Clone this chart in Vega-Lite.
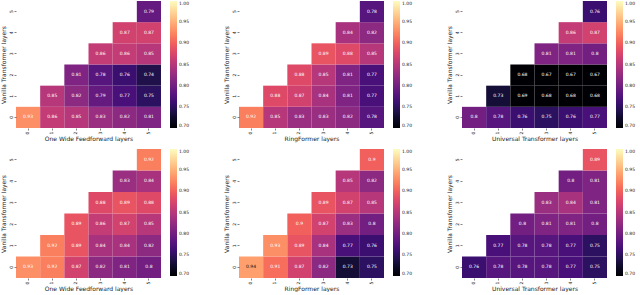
{
  "$schema": "https://vega.github.io/schema/vega-lite/v6.json",
  "padding": {"left": 0, "top": 1, "right": 0, "bottom": 0},
  "background": "white",
  "config": {
    "font": "DejaVu Sans",
    "view": {"stroke": null},
    "axis": {"domain": false, "tickSize": 2, "tickColor": "#333", "tickWidth": 0.6, "labelFontSize": 4.5, "titleFontSize": 6, "labelColor": "#222", "titleColor": "#222", "titleFontWeight": "normal", "labelPadding": 1, "titlePadding": 2, "grid": false},
    "axisX": {"labelAngle": 270, "labelAlign": "right", "labelBaseline": "middle"},
    "axisY": {"labelAngle": 270, "labelAlign": "center", "labelBaseline": "bottom"},
    "legend": {"orient": "right", "offset": 9, "gradientLength": 127, "gradientThickness": 7, "gradientStrokeWidth": 0, "labelFontSize": 4.5, "labelColor": "#222", "labelOffset": 3, "padding": 0, "direction": "vertical"}
  },
  "datasets": {
    "cells": [
      {"p":1,"v":0,"o":0,"val":0.93},{"p":1,"v":0,"o":1,"val":0.86},{"p":1,"v":0,"o":2,"val":0.85},{"p":1,"v":0,"o":3,"val":0.83},{"p":1,"v":0,"o":4,"val":0.82},{"p":1,"v":0,"o":5,"val":0.81},
      {"p":1,"v":1,"o":1,"val":0.85},{"p":1,"v":1,"o":2,"val":0.82},{"p":1,"v":1,"o":3,"val":0.79},{"p":1,"v":1,"o":4,"val":0.77},{"p":1,"v":1,"o":5,"val":0.75},
      {"p":1,"v":2,"o":2,"val":0.81},{"p":1,"v":2,"o":3,"val":0.78},{"p":1,"v":2,"o":4,"val":0.76},{"p":1,"v":2,"o":5,"val":0.74},
      {"p":1,"v":3,"o":3,"val":0.86},{"p":1,"v":3,"o":4,"val":0.86},{"p":1,"v":3,"o":5,"val":0.85},
      {"p":1,"v":4,"o":4,"val":0.87},{"p":1,"v":4,"o":5,"val":0.87},
      {"p":1,"v":5,"o":5,"val":0.79},

      {"p":2,"v":0,"o":0,"val":0.92},{"p":2,"v":0,"o":1,"val":0.85},{"p":2,"v":0,"o":2,"val":0.83},{"p":2,"v":0,"o":3,"val":0.83},{"p":2,"v":0,"o":4,"val":0.82},{"p":2,"v":0,"o":5,"val":0.78},
      {"p":2,"v":1,"o":1,"val":0.88},{"p":2,"v":1,"o":2,"val":0.87},{"p":2,"v":1,"o":3,"val":0.84},{"p":2,"v":1,"o":4,"val":0.81},{"p":2,"v":1,"o":5,"val":0.77},
      {"p":2,"v":2,"o":2,"val":0.88},{"p":2,"v":2,"o":3,"val":0.85},{"p":2,"v":2,"o":4,"val":0.81},{"p":2,"v":2,"o":5,"val":0.77},
      {"p":2,"v":3,"o":3,"val":0.89},{"p":2,"v":3,"o":4,"val":0.88},{"p":2,"v":3,"o":5,"val":0.85},
      {"p":2,"v":4,"o":4,"val":0.84},{"p":2,"v":4,"o":5,"val":0.82},
      {"p":2,"v":5,"o":5,"val":0.78},

      {"p":3,"v":0,"o":0,"val":0.8},{"p":3,"v":0,"o":1,"val":0.78},{"p":3,"v":0,"o":2,"val":0.76},{"p":3,"v":0,"o":3,"val":0.75},{"p":3,"v":0,"o":4,"val":0.76},{"p":3,"v":0,"o":5,"val":0.77},
      {"p":3,"v":1,"o":1,"val":0.73},{"p":3,"v":1,"o":2,"val":0.69},{"p":3,"v":1,"o":3,"val":0.68},{"p":3,"v":1,"o":4,"val":0.68},{"p":3,"v":1,"o":5,"val":0.68},
      {"p":3,"v":2,"o":2,"val":0.68},{"p":3,"v":2,"o":3,"val":0.67},{"p":3,"v":2,"o":4,"val":0.67},{"p":3,"v":2,"o":5,"val":0.67},
      {"p":3,"v":3,"o":3,"val":0.81},{"p":3,"v":3,"o":4,"val":0.81},{"p":3,"v":3,"o":5,"val":0.8},
      {"p":3,"v":4,"o":4,"val":0.86},{"p":3,"v":4,"o":5,"val":0.87},
      {"p":3,"v":5,"o":5,"val":0.76},

      {"p":4,"v":0,"o":0,"val":0.93},{"p":4,"v":0,"o":1,"val":0.92},{"p":4,"v":0,"o":2,"val":0.87},{"p":4,"v":0,"o":3,"val":0.82},{"p":4,"v":0,"o":4,"val":0.81},{"p":4,"v":0,"o":5,"val":0.8},
      {"p":4,"v":1,"o":1,"val":0.92},{"p":4,"v":1,"o":2,"val":0.89},{"p":4,"v":1,"o":3,"val":0.84},{"p":4,"v":1,"o":4,"val":0.84},{"p":4,"v":1,"o":5,"val":0.82},
      {"p":4,"v":2,"o":2,"val":0.89},{"p":4,"v":2,"o":3,"val":0.86},{"p":4,"v":2,"o":4,"val":0.87},{"p":4,"v":2,"o":5,"val":0.85},
      {"p":4,"v":3,"o":3,"val":0.88},{"p":4,"v":3,"o":4,"val":0.89},{"p":4,"v":3,"o":5,"val":0.88},
      {"p":4,"v":4,"o":4,"val":0.83},{"p":4,"v":4,"o":5,"val":0.84},
      {"p":4,"v":5,"o":5,"val":0.92},

      {"p":5,"v":0,"o":0,"val":0.94},{"p":5,"v":0,"o":1,"val":0.91},{"p":5,"v":0,"o":2,"val":0.87},{"p":5,"v":0,"o":3,"val":0.82},{"p":5,"v":0,"o":4,"val":0.73},{"p":5,"v":0,"o":5,"val":0.75},
      {"p":5,"v":1,"o":1,"val":0.93},{"p":5,"v":1,"o":2,"val":0.89},{"p":5,"v":1,"o":3,"val":0.84},{"p":5,"v":1,"o":4,"val":0.77},{"p":5,"v":1,"o":5,"val":0.76},
      {"p":5,"v":2,"o":2,"val":0.9},{"p":5,"v":2,"o":3,"val":0.87},{"p":5,"v":2,"o":4,"val":0.83},{"p":5,"v":2,"o":5,"val":0.8},
      {"p":5,"v":3,"o":3,"val":0.89},{"p":5,"v":3,"o":4,"val":0.87},{"p":5,"v":3,"o":5,"val":0.85},
      {"p":5,"v":4,"o":4,"val":0.85},{"p":5,"v":4,"o":5,"val":0.82},
      {"p":5,"v":5,"o":5,"val":0.9},

      {"p":6,"v":0,"o":0,"val":0.76},{"p":6,"v":0,"o":1,"val":0.78},{"p":6,"v":0,"o":2,"val":0.78},{"p":6,"v":0,"o":3,"val":0.78},{"p":6,"v":0,"o":4,"val":0.77},{"p":6,"v":0,"o":5,"val":0.75},
      {"p":6,"v":1,"o":1,"val":0.77},{"p":6,"v":1,"o":2,"val":0.78},{"p":6,"v":1,"o":3,"val":0.78},{"p":6,"v":1,"o":4,"val":0.77},{"p":6,"v":1,"o":5,"val":0.75},
      {"p":6,"v":2,"o":2,"val":0.8},{"p":6,"v":2,"o":3,"val":0.81},{"p":6,"v":2,"o":4,"val":0.81},{"p":6,"v":2,"o":5,"val":0.8},
      {"p":6,"v":3,"o":3,"val":0.83},{"p":6,"v":3,"o":4,"val":0.84},{"p":6,"v":3,"o":5,"val":0.81},
      {"p":6,"v":4,"o":4,"val":0.8},{"p":6,"v":4,"o":5,"val":0.81},
      {"p":6,"v":5,"o":5,"val":0.89}
    ]
  },
  "spacing": 7,
  "resolve": {"scale": {"color": "independent"}, "legend": {"color": "independent"}},
  "vconcat": [
    {
      "spacing": 33,
      "resolve": {"scale": {"color": "independent"}, "legend": {"color": "independent"}},
      "hconcat": [
        {
          "width": 145, "height": 127,
          "data": {"name": "cells"},
          "transform": [{"filter": "datum.p == 1"}],
          "encoding": {
            "x": {"field": "o", "type": "ordinal", "scale": {"domain": [0,1,2,3,4,5], "paddingInner": 0, "paddingOuter": 0}, "axis": {"title": "One Wide Feedforward layers"}},
            "y": {"field": "v", "type": "ordinal", "scale": {"domain": [5,4,3,2,1,0], "paddingInner": 0, "paddingOuter": 0}, "axis": {"title": "Vanilla Transformer layers"}}
          },
          "layer": [
            {"mark": {"type": "rect"}, "encoding": {"color": {"field": "val", "type": "quantitative", "scale": {"scheme": "magma", "domain": [0.7, 1.0], "clamp": true}, "legend": {"title": null, "values": [0.7,0.75,0.8,0.85,0.9,0.95,1.0], "format": ".2f"}}}},
            {"mark": {"type": "text", "fontSize": 4.5}, "encoding": {"text": {"field": "val", "type": "quantitative", "format": ".2~f"}, "color": {"condition": {"test": "datum.val >= 0.935", "value": "#111"}, "value": "white"}}}
          ]
        },
        {
          "width": 145, "height": 127,
          "data": {"name": "cells"},
          "transform": [{"filter": "datum.p == 2"}],
          "encoding": {
            "x": {"field": "o", "type": "ordinal", "scale": {"domain": [0,1,2,3,4,5], "paddingInner": 0, "paddingOuter": 0}, "axis": {"title": "RingFormer layers"}},
            "y": {"field": "v", "type": "ordinal", "scale": {"domain": [5,4,3,2,1,0], "paddingInner": 0, "paddingOuter": 0}, "axis": {"title": "Vanilla Transformer layers"}}
          },
          "layer": [
            {"mark": {"type": "rect"}, "encoding": {"color": {"field": "val", "type": "quantitative", "scale": {"scheme": "magma", "domain": [0.7, 1.0], "clamp": true}, "legend": {"title": null, "values": [0.7,0.75,0.8,0.85,0.9,0.95,1.0], "format": ".2f"}}}},
            {"mark": {"type": "text", "fontSize": 4.5}, "encoding": {"text": {"field": "val", "type": "quantitative", "format": ".2~f"}, "color": {"condition": {"test": "datum.val >= 0.935", "value": "#111"}, "value": "white"}}}
          ]
        },
        {
          "width": 145, "height": 127,
          "data": {"name": "cells"},
          "transform": [{"filter": "datum.p == 3"}],
          "encoding": {
            "x": {"field": "o", "type": "ordinal", "scale": {"domain": [0,1,2,3,4,5], "paddingInner": 0, "paddingOuter": 0}, "axis": {"title": "Universal Transformer layers"}},
            "y": {"field": "v", "type": "ordinal", "scale": {"domain": [5,4,3,2,1,0], "paddingInner": 0, "paddingOuter": 0}, "axis": {"title": "Vanilla Transformer layers"}}
          },
          "layer": [
            {"mark": {"type": "rect"}, "encoding": {"color": {"field": "val", "type": "quantitative", "scale": {"scheme": "magma", "domain": [0.7, 1.0], "clamp": true}, "legend": {"title": null, "values": [0.7,0.75,0.8,0.85,0.9,0.95,1.0], "format": ".2f"}}}},
            {"mark": {"type": "text", "fontSize": 4.5}, "encoding": {"text": {"field": "val", "type": "quantitative", "format": ".2~f"}, "color": {"condition": {"test": "datum.val >= 0.935", "value": "#111"}, "value": "white"}}}
          ]
        }
      ]
    },
    {
      "spacing": 33,
      "resolve": {"scale": {"color": "independent"}, "legend": {"color": "independent"}},
      "hconcat": [
        {
          "width": 145, "height": 129,
          "data": {"name": "cells"},
          "transform": [{"filter": "datum.p == 4"}],
          "encoding": {
            "x": {"field": "o", "type": "ordinal", "scale": {"domain": [0,1,2,3,4,5], "paddingInner": 0, "paddingOuter": 0}, "axis": {"title": "One Wide Feedforward layers"}},
            "y": {"field": "v", "type": "ordinal", "scale": {"domain": [5,4,3,2,1,0], "paddingInner": 0, "paddingOuter": 0}, "axis": {"title": "Vanilla Transformer layers"}}
          },
          "layer": [
            {"mark": {"type": "rect"}, "encoding": {"color": {"field": "val", "type": "quantitative", "scale": {"scheme": "magma", "domain": [0.7, 1.0], "clamp": true}, "legend": {"title": null, "values": [0.7,0.75,0.8,0.85,0.9,0.95,1.0], "format": ".2f"}}}},
            {"mark": {"type": "text", "fontSize": 4.5}, "encoding": {"text": {"field": "val", "type": "quantitative", "format": ".2~f"}, "color": {"condition": {"test": "datum.val >= 0.935", "value": "#111"}, "value": "white"}}}
          ]
        },
        {
          "width": 145, "height": 129,
          "data": {"name": "cells"},
          "transform": [{"filter": "datum.p == 5"}],
          "encoding": {
            "x": {"field": "o", "type": "ordinal", "scale": {"domain": [0,1,2,3,4,5], "paddingInner": 0, "paddingOuter": 0}, "axis": {"title": "RingFormer layers"}},
            "y": {"field": "v", "type": "ordinal", "scale": {"domain": [5,4,3,2,1,0], "paddingInner": 0, "paddingOuter": 0}, "axis": {"title": "Vanilla Transformer layers"}}
          },
          "layer": [
            {"mark": {"type": "rect"}, "encoding": {"color": {"field": "val", "type": "quantitative", "scale": {"scheme": "magma", "domain": [0.7, 1.0], "clamp": true}, "legend": {"title": null, "values": [0.7,0.75,0.8,0.85,0.9,0.95,1.0], "format": ".2f"}}}},
            {"mark": {"type": "text", "fontSize": 4.5}, "encoding": {"text": {"field": "val", "type": "quantitative", "format": ".2~f"}, "color": {"condition": {"test": "datum.val >= 0.935", "value": "#111"}, "value": "white"}}}
          ]
        },
        {
          "width": 145, "height": 129,
          "data": {"name": "cells"},
          "transform": [{"filter": "datum.p == 6"}],
          "encoding": {
            "x": {"field": "o", "type": "ordinal", "scale": {"domain": [0,1,2,3,4,5], "paddingInner": 0, "paddingOuter": 0}, "axis": {"title": "Universal Transformer layers"}},
            "y": {"field": "v", "type": "ordinal", "scale": {"domain": [5,4,3,2,1,0], "paddingInner": 0, "paddingOuter": 0}, "axis": {"title": "Vanilla Transformer layers"}}
          },
          "layer": [
            {"mark": {"type": "rect"}, "encoding": {"color": {"field": "val", "type": "quantitative", "scale": {"scheme": "magma", "domain": [0.7, 1.0], "clamp": true}, "legend": {"title": null, "values": [0.7,0.75,0.8,0.85,0.9,0.95,1.0], "format": ".2f"}}}},
            {"mark": {"type": "text", "fontSize": 4.5}, "encoding": {"text": {"field": "val", "type": "quantitative", "format": ".2~f"}, "color": {"condition": {"test": "datum.val >= 0.935", "value": "#111"}, "value": "white"}}}
          ]
        }
      ]
    }
  ]
}
